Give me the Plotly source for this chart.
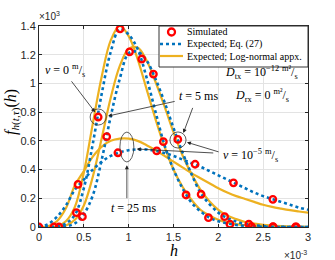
import plotly.graph_objects as go

# x grid (units of 1e-3)
x_grid = [round(0.1 * i, 1) for i in range(31)]

# Expected; Eq. (27) curves (units of 1e3)
eq_a = [0, 0, 0.003, 0.025, 0.085, 0.27, 0.58, 0.93, 1.22, 1.38, 1.34, 1.24, 1.04, 0.80, 0.57, 0.40, 0.27,
        0.17, 0.11, 0.065, 0.04, 0.025, 0.014, 0.008, 0.004, 0.002, 0.001, 0, 0, 0, 0]
eq_b = [0, 0, 0, 0.005, 0.025, 0.09, 0.22, 0.47, 0.77, 1.03, 1.21, 1.22, 1.16, 1.03, 0.87, 0.69, 0.52,
        0.37, 0.24, 0.16, 0.10, 0.062, 0.038, 0.022, 0.013, 0.007, 0.003, 0.001, 0, 0, 0]
eq_c = [0, 0.02, 0.07, 0.15, 0.26, 0.33, 0.40, 0.455, 0.495, 0.52, 0.535, 0.54, 0.54, 0.53, 0.515, 0.495,
        0.47, 0.445, 0.42, 0.39, 0.36, 0.33, 0.30, 0.27, 0.24, 0.215, 0.195, 0.175, 0.155, 0.135, 0.12]

# Log-normal approximation curves
ln_a = [0, 0, 0.005, 0.04, 0.14, 0.38, 0.72, 1.05, 1.30, 1.40, 1.33, 1.17, 0.96, 0.75, 0.56, 0.40, 0.28,
        0.19, 0.12, 0.08, 0.05, 0.03, 0.02, 0.012, 0.007, 0.004, 0.002, 0.001, 0, 0, 0]
ln_b = [0, 0, 0, 0.01, 0.05, 0.15, 0.35, 0.62, 0.90, 1.12, 1.24, 1.25, 1.16, 1.01, 0.84, 0.66, 0.50,
        0.37, 0.26, 0.18, 0.12, 0.08, 0.055, 0.035, 0.023, 0.015, 0.01, 0.006, 0.004, 0.002, 0.001]
ln_c = [0, 0.005, 0.04, 0.13, 0.29, 0.39, 0.49, 0.56, 0.60, 0.615, 0.615, 0.60, 0.57, 0.535, 0.495, 0.455,
        0.415, 0.375, 0.34, 0.305, 0.27, 0.24, 0.215, 0.195, 0.175, 0.155, 0.14, 0.128, 0.117, 0.108, 0.10]

# Simulated points
sim_a_x = [0.167, 0.417, 0.66, 0.904, 1.146, 1.387, 1.64, 1.89, 2.13, 2.37, 2.61, 2.86]
sim_a_y = [0, 0.10, 0.766, 1.38, 1.17, 0.594, 0.223, 0.065, 0.02, 0.002, 0, 0]
sim_b_x = [0.223, 0.484, 0.755, 1.01, 1.276, 1.548, 1.808, 2.07, 2.34, 2.61, 2.87]
sim_b_y = [0, 0.072, 0.629, 1.22, 1.065, 0.61, 0.228, 0.072, 0.02, 0.003, 0]
sim_c_x = [0, 0.435, 0.88, 1.313, 1.741, 2.169, 2.608]
sim_c_y = [0, 0.297, 0.517, 0.53, 0.437, 0.308, 0.193]

x_ticks = [0, 0.5, 1, 1.5, 2, 2.5, 3]
y_ticks = [0, 0.2, 0.4, 0.6, 0.8, 1.0, 1.2, 1.4]
legend_labels = ["Simulated", "Expected; Eq. (27)", "Expected; Log-normal appx."]

BLUE = "#0072BD"
ORANGE = "#EDB120"
RED = "#FF0000"
SERIF = "Liberation Serif, DejaVu Serif, serif"
SANS = "Liberation Sans, Arial, sans-serif"

fig = go.Figure()
for yy in [ln_a, ln_b, ln_c]:
    fig.add_trace(go.Scatter(x=x_grid, y=yy, mode="lines", line=dict(color=ORANGE, width=2.2, shape="spline"),
                             name=legend_labels[2], showlegend=False, hoverinfo="skip"))
for yy in [eq_a, eq_b, eq_c]:
    fig.add_trace(go.Scatter(x=x_grid, y=yy, mode="lines",
                             line=dict(color=BLUE, width=2.6, dash="dot", shape="spline"),
                             name=legend_labels[1], showlegend=False, hoverinfo="skip"))
for xx, yy in [(sim_a_x, sim_a_y), (sim_b_x, sim_b_y), (sim_c_x, sim_c_y)]:
    fig.add_trace(go.Scatter(x=xx, y=yy, mode="markers",
                             marker=dict(symbol="circle-open", color=RED, size=6.5, line=dict(width=2.3, color=RED)),
                             name=legend_labels[0], showlegend=False, hoverinfo="skip"))

# target plot area in screenshot pixels: x 39..308, y 26..227 (page body margin is reset to 0)
W, H = 335, 260
L, R, T, B = 39, 308, 26, 227
def px(x):
    return (x - L) / (R - L)
def py(y):
    return (B - y) / (B - T)

fig.update_layout(
    width=W, height=H,
    margin=dict(l=L, r=W - R, t=T, b=H - B, pad=0),
    paper_bgcolor="white", plot_bgcolor="white",
    showlegend=False,
    xaxis=dict(range=[0, 3], tickvals=x_ticks, ticktext=[str(v) for v in x_ticks], showgrid=True,
               gridcolor="#e3e3e3", zeroline=False, showline=True, linecolor="#262626", mirror="ticks",
               ticks="inside", ticklen=3, tickcolor="#262626", automargin=False,
               tickfont=dict(family=SANS, size=11, color="#262626")),
    yaxis=dict(range=[0, 1.4], tickvals=y_ticks, ticktext=["0", "0.2", "0.4", "0.6", "0.8", "1", "1.2", "1.4"],
               showgrid=True, gridcolor="#e3e3e3", zeroline=False, showline=True, linecolor="#262626",
               mirror="ticks", ticks="inside", ticklen=3, tickcolor="#262626", automargin=False,
               tickfont=dict(family=SANS, size=11, color="#262626")),
)

def ptext(x, y, text, font, xanchor="center", angle=0):
    fig.add_annotation(xref="paper", yref="paper", x=px(x), y=py(y), xanchor=xanchor, yanchor="middle",
                       showarrow=False, text=text, font=font, textangle=angle)

# axis titles
ptext(174, 251, "<i>h</i>", dict(family=SERIF, size=16, color="black"))
ptext(12, 112, "<i>f</i><sub><i>h</i>(<i>t</i>,<i>τ</i>)</sub>(<i>h</i>)",
      dict(family=SERIF, size=16, color="black"), angle=-90)

# exponent labels
ptext(37, 16, "×10<sup>3</sup>", dict(family=SANS, size=10, color="#262626"), xanchor="left")
ptext(309, 255, "×10<sup>-3</sup>", dict(family=SANS, size=10, color="#262626"), xanchor="right")

# manual legend
fig.add_shape(type="rect", xref="paper", yref="paper", x0=px(159), x1=px(308), y0=py(67), y1=py(26),
              fillcolor="white", line=dict(color="#333333", width=1), layer="above")
leg_rows = [32, 44, 56]
fig.add_shape(type="circle", xref="paper", yref="paper", x0=px(168), x1=px(175), y0=py(35.5), y1=py(28.5),
              line=dict(color=RED, width=2.3), layer="above")
fig.add_shape(type="line", xref="paper", yref="paper", x0=px(160), x1=px(183), y0=py(leg_rows[1]),
              y1=py(leg_rows[1]), line=dict(color=BLUE, width=2.6, dash="dot"), layer="above")
fig.add_shape(type="line", xref="paper", yref="paper", x0=px(160), x1=px(183), y0=py(leg_rows[2]),
              y1=py(leg_rows[2]), line=dict(color=ORANGE, width=2.2), layer="above")
for lab, ry in zip(legend_labels, leg_rows):
    ptext(185, ry, lab, dict(family=SERIF, size=10, color="black"), xanchor="left")

# circles / ellipse
def circ(cx, cy, rx, ry):
    fig.add_shape(type="circle", xref="x", yref="y", x0=cx - rx, x1=cx + rx, y0=cy - ry, y1=cy + ry,
                  line=dict(color="#333333", width=0.8))

circ(0.66, 0.766, 0.09, 0.056)
circ(1.55, 0.606, 0.09, 0.056)
circ(0.98, 0.557, 0.078, 0.104)

# text annotations (data coordinates)
ann_font = dict(family=SERIF, size=12, color="black")
def dtext(x, y, text):
    fig.add_annotation(x=x, y=y, xref="x", yref="y", xanchor="center", yanchor="middle", showarrow=False,
                       text=text, font=ann_font)

dtext(0.29, 1.09, "<i>v</i> = 0 <sup>m</sup>/<sub>s</sub>")
dtext(1.78, 0.91, "<i>t</i> = 5 ms")
dtext(2.48, 1.075, "<i>D</i><sub>tx</sub> = 10<sup>−12</sup> <sup>m²</sup>/<sub>s</sub>")
dtext(2.49, 0.915, "<i>D</i><sub>rx</sub> = 0 <sup>m²</sup>/<sub>s</sub>")
dtext(2.36, 0.50, "<i>v</i> = 10<sup>−5</sup> <sup>m</sup>/<sub>s</sub>")
dtext(1.05, 0.13, "<i>t</i> = 25 ms")

# arrows
def arrow(x, y, ax, ay):
    fig.add_annotation(x=x, y=y, ax=ax, ay=ay, xref="x", yref="y", axref="x", ayref="y", text="",
                       showarrow=True, arrowhead=2, arrowsize=1, arrowwidth=0.8, arrowcolor="#222222")

arrow(0.625, 0.80, 0.35, 1.025)
arrow(0.77, 0.773, 1.53, 0.877)
arrow(1.61, 0.655, 1.72, 0.84)
arrow(1.65, 0.59, 2.02, 0.52)
arrow(1.09, 0.543, 1.96, 0.515)
arrow(0.98, 0.43, 0.98, 0.19)

fig.write_html("out.html", config={"displayModeBar": False, "staticPlot": True},
               post_script="document.body.style.margin='0';")
